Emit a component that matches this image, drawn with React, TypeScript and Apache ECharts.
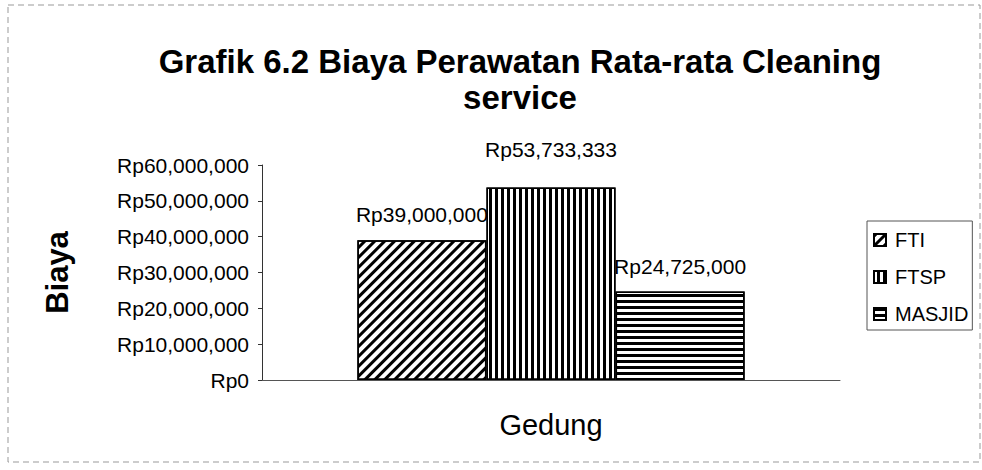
import React, { useEffect, useRef } from "react";
import * as echarts from "echarts";

const titleText = "Grafik 6.2 Biaya Perawatan Rata-rata Cleaning\nservice";
const categories = ["Gedung"];
const seriesNames = ["FTI", "FTSP", "MASJID"];
const seriesValues = [[39000000], [53733333], [24725000]];
const yTicks = [0, 10000000, 20000000, 30000000, 40000000, 50000000, 60000000];
const yAxisName = "Biaya";
const xAxisName = "Gedung";

const FONT = "'Liberation Sans', Arial, sans-serif";

const fmt = (v: number) => "Rp" + Math.round(v).toLocaleString("en-US");

const decals = [
  { symbol: "rect", symbolSize: 1, dashArrayX: [1, 0], dashArrayY: [3, 4], rotation: -Math.PI / 4, color: "#000" },
  { symbol: "rect", symbolSize: 1, dashArrayX: [1, 0], dashArrayY: [3, 3], rotation: Math.PI / 2, color: "#000" },
  { symbol: "rect", symbolSize: 1, dashArrayX: [1, 0], dashArrayY: [3, 3], rotation: 0, color: "#000" },
];
const labelDistances = [15, 27, 14];

export default function App() {
  const ref = useRef<HTMLDivElement>(null);
  useEffect(() => {
    if (!ref.current) return;
    const chart = echarts.init(ref.current, null, { renderer: "svg" });
    chart.setOption({
      animation: false,
      backgroundColor: "#fff",
      textStyle: { fontFamily: FONT },
      title: {
        text: titleText,
        left: 515,
        top: 38,
        textAlign: "center",
        textStyle: { fontFamily: FONT, fontSize: 33, fontWeight: "bold", color: "#000", lineHeight: 36 },
      },
      legend: {
        orient: "vertical",
        left: 867,
        top: 221,
        padding: [9, 4, 6, 6],
        itemGap: 17,
        itemWidth: 12,
        itemHeight: 12,
        borderColor: "#555",
        borderWidth: 1,
        icon: "rect",
        data: seriesNames,
        textStyle: { fontFamily: FONT, fontSize: 20, color: "#000", padding: [0, 0, 0, 4] },
      },
      grid: { left: 262, right: 142, top: 165, bottom: 90, containLabel: false },
      xAxis: {
        type: "category",
        data: categories,
        name: xAxisName,
        nameLocation: "middle",
        nameGap: 30,
        nameTextStyle: { fontFamily: FONT, fontSize: 29, color: "#000" },
        axisLine: { lineStyle: { color: "#555", width: 1 } },
        axisTick: { show: false },
        axisLabel: { show: false },
      },
      yAxis: {
        type: "value",
        min: yTicks[0],
        max: yTicks[yTicks.length - 1],
        interval: yTicks[1] - yTicks[0],
        name: yAxisName,
        nameLocation: "middle",
        nameGap: 189,
        nameRotate: 90,
        nameTextStyle: { fontFamily: FONT, fontSize: 31, fontWeight: "bold", color: "#000" },
        axisLine: { show: true, lineStyle: { color: "#333", width: 1 } },
        axisTick: { show: true, length: 4, lineStyle: { color: "#333" } },
        splitLine: { show: false },
        axisLabel: {
          formatter: (v: number) => fmt(v),
          fontFamily: FONT,
          fontSize: 21,
          color: "#000",
          margin: 13,
        },
      },
      series: seriesNames.map((name, i) => ({
        name,
        type: "bar",
        data: seriesValues[i],
        barGap: "0%",
        barCategoryGap: "33%",
        itemStyle: { color: "#fff", borderColor: "#000", borderWidth: 1.5, decal: decals[i] },
        label: {
          show: true,
          position: "top",
          distance: labelDistances[i],
          formatter: (p: any) => fmt(p.value),
          fontFamily: FONT,
          fontSize: 21,
          color: "#000",
        },
      })),
      graphic: [
        {
          type: "rect",
          shape: { x: 8, y: 5, width: 972, height: 457 },
          style: { fill: "none", stroke: "#999", lineWidth: 1, lineDash: [6, 4] },
          silent: true,
          z: -1,
        },
      ],
    });
    return () => chart.dispose();
  }, []);
  return <div ref={ref} style={{ width: 982, height: 470, position: "absolute", left: 0, top: 0 }} />;
}
